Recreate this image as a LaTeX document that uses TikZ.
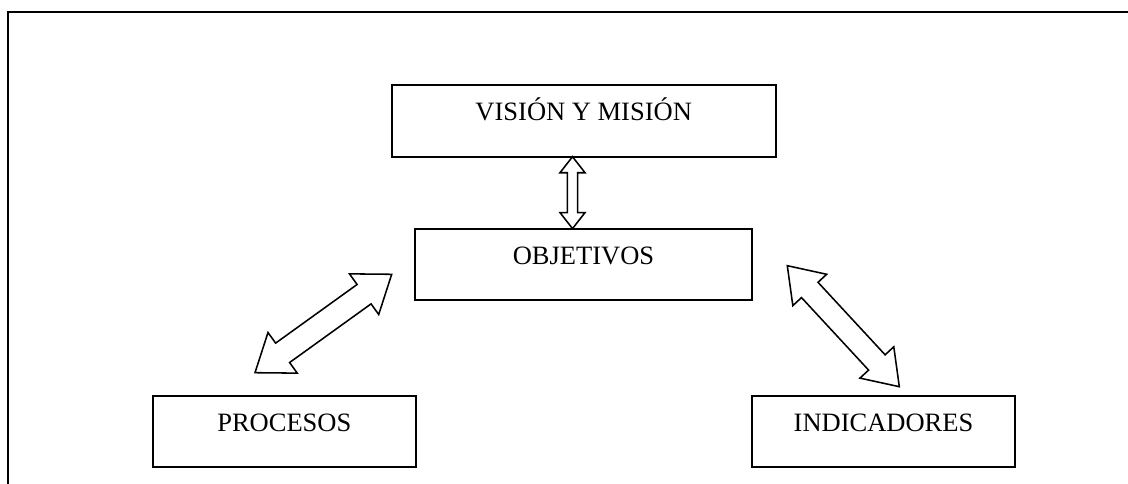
\documentclass[tikz,border=0pt]{standalone}
\usepackage{fontspec}
\setmainfont{Liberation Serif}
\usetikzlibrary{calc}

\tikzset{
  box/.style={draw, line width=1.4pt, minimum width=#1, minimum height=50.5pt,
    inner sep=0pt, text height=6pt, text depth=6pt,
    font=\fontsize{18.85}{22}\selectfont},
  blockarrow/.style={draw, line width=1.1pt, fill=white, line join=miter},
  frame/.style={line width=1.4pt},
}

% Hollow double-headed block arrow between two named points:
% #1, #2 tips; #3 half shaft width; #4 half head width; #5 head length
\newcommand{\dblarrow}[5]{%
  \draw[blockarrow] (#1)
    -- ($(#1)!#5!(#2)!#4!90:(#2)$)
    -- ($(#1)!#5!(#2)!#3!90:(#2)$)
    -- ($(#2)!#5!(#1)!#3!-90:(#1)$)
    -- ($(#2)!#5!(#1)!#4!-90:(#1)$)
    -- (#2)
    -- ($(#2)!#5!(#1)!#4!90:(#1)$)
    -- ($(#2)!#5!(#1)!#3!90:(#1)$)
    -- ($(#1)!#5!(#2)!#3!-90:(#2)$)
    -- ($(#1)!#5!(#2)!#4!-90:(#2)$)
    -- cycle;}

\begin{document}
\begin{tikzpicture}[x=0.025cm, y=-0.025cm]
  \useasboundingbox (0,0) rectangle (1128,484);

  % open frame: left and top sides
  \draw[frame] (8,484) -- (8,12) -- (1128,12);

  % boxes
  \node[box=272.8pt, minimum height=51pt] (vision) at (583.7,121) {VISIÓN Y MISIÓN};
  \node[box=239.7pt] (obj) at (583.5,264.5) {OBJETIVOS};
  \node[box=187.4pt] (proc) at (284.3,431.5) {PROCESOS};
  \node[box=187.1pt] (ind) at (883.5,431.5) {INDICADORES};

  % arrow tips
  \coordinate (vm) at (572.5,156.7);
  \coordinate (ov) at (572.5,228.6);
  \coordinate (op) at (391.7,274.3);
  \coordinate (po) at (255,372.7);
  \coordinate (oi) at (787.3,265.7);
  \coordinate (io) at (899.3,386.7);

  % double arrows
  \dblarrow{vm}{ov}{3.6pt}{8.9pt}{11.4pt}
  \dblarrow{op}{po}{8.5pt}{17.8pt}{24.2pt}
  \dblarrow{oi}{io}{8pt}{16.4pt}{23.5pt}
\end{tikzpicture}
\end{document}
